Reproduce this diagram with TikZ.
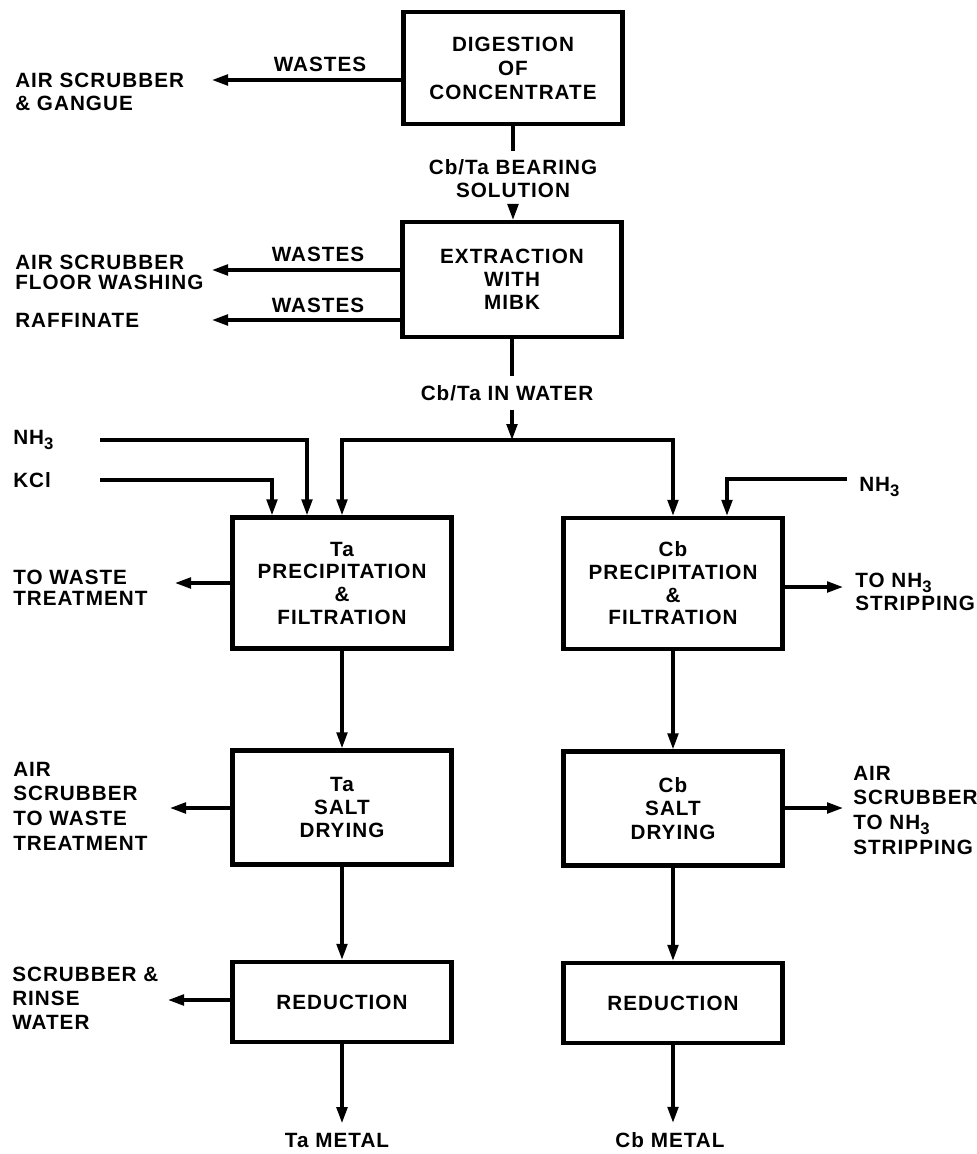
\documentclass[tikz,border=0pt]{standalone}
\usepackage{fontspec}
\newfontfamily\lettering[LetterSpace=5]{Liberation Sans}
\usetikzlibrary{arrows.meta,calc}
\newcommand{\subthree}{\raisebox{-0.45ex}{\fontsize{12.5}{12.5}\selectfont 3}}

\begin{document}
\begin{tikzpicture}[x=0.75pt,y=-0.75pt,
  every node/.style={font=\lettering\bfseries\fontsize{15.5}{17}\selectfont},
  lead/.style={font=\lettering\bfseries\fontsize{15.5}{#1}\selectfont},
  stage/.style={draw, line width=3.3pt, align=center, inner sep=0pt, minimum width=164pt},
  annot/.style={inner sep=0pt, align=left, anchor=west},
  mid/.style={inner sep=0pt, align=center},
  pipe/.style={line width=2.4pt},
  flow/.style={line width=2.4pt, -{Triangle[length=12pt,width=8pt]}},
]
\useasboundingbox (0,0) rectangle (976,1154);

% process stages
\node[stage, minimum height=84pt, lead=18pt] (dig) at (513,68) {DIGESTION\\OF\\CONCENTRATE};
\node[stage, minimum height=86pt, lead=17.25pt] (ext) at (512,279.5) {EXTRACTION\\WITH\\MIBK};
\node[stage, minimum height=98.25pt, lead=17pt] (taP) at (342,583) {Ta\\PRECIPITATION\\\&\\FILTRATION};
\node[stage, minimum height=98.25pt, lead=17pt] (cbP) at (673,583.5) {Cb\\PRECIPITATION\\\&\\FILTRATION};
\node[stage, minimum height=85.5pt, lead=17.6pt] (taS) at (342,807.5) {Ta\\SALT\\DRYING};
\node[stage, minimum height=85.5pt, lead=17.6pt] (cbS) at (673,808.5) {Cb\\SALT\\DRYING};
\node[stage, minimum height=60pt] (taR) at (342,1002) {REDUCTION};
\node[stage, minimum height=60pt] (cbR) at (673,1003) {REDUCTION};

% digestion
\coordinate (o1t) at (212,80);
\draw[flow] (dig.west |- o1t) -- (o1t);
\node[mid] (w1) at (320,64) {WASTES};
\node[annot, lead=17.25pt] (o1) at (15,91.5) {AIR SCRUBBER\\\& GANGUE};
\node[mid, lead=17.25pt, inner ysep=6pt] (bear) at (513,178.5) {Cb/Ta BEARING\\SOLUTION};
\draw[pipe] (dig) -- (bear);
\draw[flow] (bear) -- (bear |- ext.north);

% extraction
\coordinate (o2t) at (212,270);
\coordinate (o3t) at (212,320);
\draw[flow] (ext.west |- o2t) -- (o2t);
\draw[flow] (ext.west |- o3t) -- (o3t);
\node[mid] (w2) at (318,254) {WASTES};
\node[mid] (w3) at (318,305) {WASTES};
\node[annot, lead=15pt] (o2) at (15,272) {AIR SCRUBBER\\FLOOR WASHING};
\node[annot] (o3) at (15,320) {RAFFINATE};
\node[mid, inner ysep=7pt] (water) at (507,393) {Cb/Ta IN WATER};
\draw[pipe] (ext.south) -- (ext.south |- water.north);
\coordinate (split) at (512,440);
\draw[flow] (ext.south |- water.south) -- (split);
\draw[flow] (split) -| (taP.north);
\draw[flow] (split) -| (cbP.north);

% reagents
\node[annot] (nh1) at (13,440) {NH\subthree};
\node[annot] (kcl) at (13,480) {KCl};
\coordinate (nh1s) at (100,440);
\coordinate (kcls) at (100,480);
\draw[flow] (nh1s) -| ($(taP.north)+(-35,0)$);
\draw[flow] (kcls) -| ($(taP.north)+(-70,0)$);
\node[annot] (nh2) at (859,487) {NH\subthree};
\coordinate (nh2s) at (847,479);
\draw[flow] (nh2s) -| ($(cbP.north)+(54,0)$);

% precipitation outlets
\coordinate (t1) at (175,583);
\draw[flow] (taP.west |- t1) -- (t1);
\node[annot, lead=16pt] (o4) at (13,588) {TO WASTE\\TREATMENT};
\coordinate (t2) at (843,587);
\draw[flow] (cbP.east |- t2) -- (t2);
\node[annot, lead=17pt] (o5) at (855,592) {TO NH\subthree\\STRIPPING};
\draw[flow] (taP) -- (taS);
\draw[flow] (cbP) -- (cbS);

% drying outlets
\coordinate (t3) at (170,808);
\draw[flow] (taS.west |- t3) -- (t3);
\node[annot, lead=18.5pt] (o6) at (13,806) {AIR\\SCRUBBER\\TO WASTE\\TREATMENT};
\coordinate (t4) at (843,808);
\draw[flow] (cbS.east |- t4) -- (t4);
\node[annot, lead=18.5pt] (o7) at (853,810) {AIR\\SCRUBBER\\TO NH\subthree\\STRIPPING};
\draw[flow] (taS) -- (taR);
\draw[flow] (cbS) -- (cbR);

% reduction
\coordinate (t5) at (168,1000);
\draw[flow] (taR.west |- t5) -- (t5);
\node[annot, lead=18pt] (o8) at (12,998) {SCRUBBER \&\\RINSE\\WATER};
\node[mid, inner ysep=7pt] (tam) at (337,1140) {Ta METAL};
\node[mid, inner ysep=7pt] (cbm) at (670,1140) {Cb METAL};
\draw[flow] (taR.south) -- (taR.south |- tam.north);
\draw[flow] (cbR.south) -- (cbR.south |- cbm.north);
\end{tikzpicture}
\end{document}
